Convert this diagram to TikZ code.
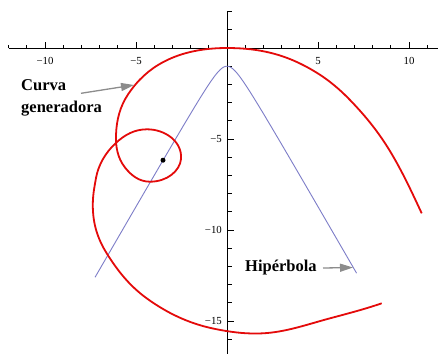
\documentclass[tikz,border=0pt]{standalone}
\usepackage{fontspec}
\setmainfont{Liberation Serif}
\usetikzlibrary{arrows.meta}
\definecolor{curvered}{RGB}{228,10,10}
\definecolor{hyperblue}{RGB}{125,125,200}
\definecolor{arrowgray}{RGB}{140,140,140}
\begin{document}
\begin{tikzpicture}[x=1pt,y=-1pt,
  axis/.style={line width=0.8pt, black},
  ticklabel/.style={font=\fontsize{10.8}{12}\selectfont, inner sep=0pt},
  lbl/.style={font=\fontsize{16.5}{20}\selectfont\bfseries, inner sep=0pt, anchor=base west},
  pointer/.style={arrowgray, line width=1.3pt, -{Triangle[length=13pt,width=8pt]}},
  gen/.style={curvered, line width=1.8pt, line join=round},
  hyp/.style={hyperblue, line width=0.9pt}]
\useasboundingbox[fill=white] (0,0) rectangle (438,354);
% axes
\coordinate (xl) at (8.5,48);
\coordinate (xr) at (438,48);
\coordinate (yt) at (227,11.6);
\coordinate (yb) at (227,354);
\draw[axis] (xl) -- (xr);
\draw[axis] (yt) -- (yb);
\foreach \k in {-12,...,11} { \draw[axis] ({227+18.2*\k},48) -- ++(0,-3.5); }
\foreach \k in {-10,-5,5,10} { \draw[axis] ({227+18.2*\k},48) -- ++(0,-6); }
\foreach \k in {-16,...,2} { \draw[axis] (227,{48-18.2*\k}) -- ++(4.5,0); }
\foreach \k in {-15,-10,-5} { \draw[axis] (227,{48-18.2*\k}) -- ++(7,0); }
\foreach \k/\t in {-10/−10,-5/−5,5/5,10/10} {
  \node[ticklabel, anchor=base] (xt\k) at ({227+18.2*\k},64) {\t};
}
\foreach \k/\t in {-5/−5,-10/−10,-15/−15} {
  \node[ticklabel, anchor=east] (yt\k) at (222,{48-18.2*\k}) {\t};
}
% hyperbola
\draw[hyp] plot[domain=-7.25:7.12, samples=160, variable=\t] ({227+18.2*\t},{48+18.2*sqrt(1+3*\t*\t)});
% generating curve
\coordinate (A) at (421.7,213.3);
\coordinate (P1) at (393.3,156.7);
\coordinate (P2) at (350,100);
\coordinate (P3) at (300,63.5);
\coordinate (O) at (227,48);
\coordinate (P4) at (163.3,62);
\coordinate (P5) at (128.3,94);
\coordinate (P6) at (116,135);
\coordinate (P7) at (125,167.5);
\coordinate (P8) at (150,181.7);
\coordinate (P9) at (181,159);
\coordinate (P10) at (147,129.3);
\coordinate (P11) at (115.5,143.3);
\coordinate (P12) at (96,178);
\coordinate (P13) at (92.8,205);
\coordinate (P14) at (106.7,253.3);
\coordinate (P15) at (146.7,298.3);
\coordinate (P16) at (213,328.5);
\coordinate (P17) at (263,333.3);
\coordinate (P18) at (330,318.3);
\coordinate (B) at (381.7,303.3);
\draw[gen] (A)
  .. controls +(-115:22) and +(60:22) .. (P1)
  .. controls +(-120:25) and +(46:25) .. (P2)
  .. controls +(-134:22) and +(26:22) .. (P3)
  .. controls +(-154:26) and +(0:26) .. (O)
  .. controls +(180:22) and +(-28:22) .. (P4)
  .. controls +(152:16.5) and +(-56:16.5) .. (P5)
  .. controls +(124:15) and +(-88:15) .. (P6)
  .. controls +(92:12) and +(-128:12) .. (P7)
  .. controls +(52:10.5) and +(180:10.5) .. (P8)
  .. controls +(0:17) and +(95:12) .. (P9)
  .. controls +(-85:17) and +(0:18.8) .. (P10)
  .. controls +(180:12.5) and +(-43:12.5) .. (P11)
  .. controls +(137:14) and +(-80:13) .. (P12)
  .. controls +(100:10) and +(-90:10) .. (P13)
  .. controls +(90:18) and +(-122:18) .. (P14)
  .. controls +(58:21) and +(-144:21) .. (P15)
  .. controls +(36:25) and +(-168:25) .. (P16)
  .. controls +(12:17) and +(177:17) .. (P17)
  .. controls +(-3:23) and +(165:23) .. (P18)
  .. controls +(-15:18) and +(161:18) .. (B);
% point
\node[circle, fill=black, inner sep=0pt, minimum size=5pt] (dot) at (163,160.2) {};
% labels
\node[lbl] (curva) at (21,90.7) {Curva};
\node[lbl] (genlbl) at (21,112) {generadora};
\coordinate (cs) at (81,93.3);
\coordinate (ce) at (134,85);
\draw[pointer] (cs) -- (ce);
\node[lbl] (hip) at (245,271.7) {Hipérbola};
\coordinate (hs) at (323,268);
\coordinate (he) at (353,267.5);
\draw[pointer] (hs) -- (he);
\end{tikzpicture}
\end{document}
